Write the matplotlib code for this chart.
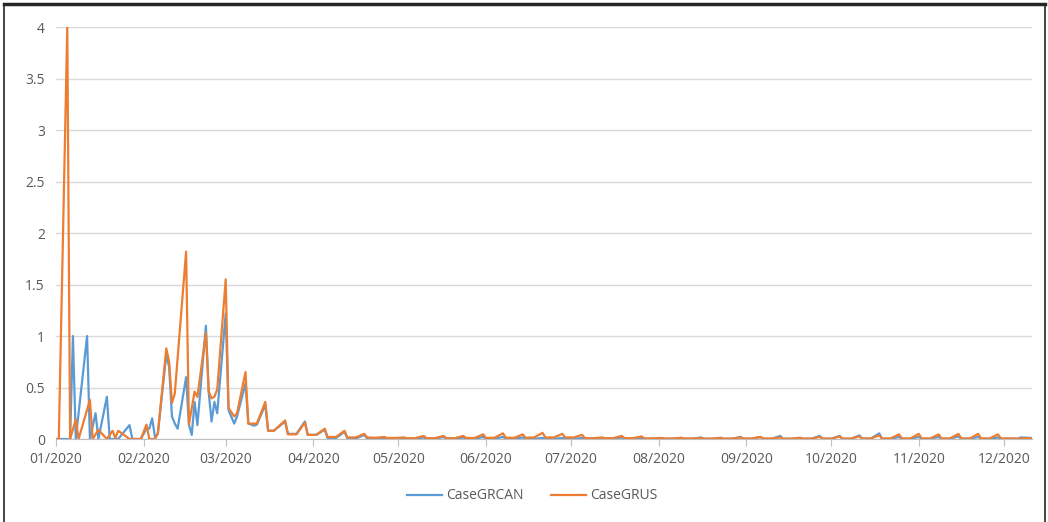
import numpy as np
import pandas as pd
import matplotlib
matplotlib.use("Agg")
import matplotlib.pyplot as plt
import matplotlib.dates as mdates
from matplotlib.ticker import FuncFormatter, MultipleLocator
from matplotlib.lines import Line2D

start = pd.Timestamp("2020-01-01")

# days since 2020-01-01 and growth rate, CaseGRCAN
can_days = [0, 5, 6, 7, 11, 12, 14, 15, 18, 19, 22, 26, 27, 30, 32, 33, 34, 35, 36,
            39, 40, 41, 42, 43, 46, 47, 48, 49, 50, 53, 54, 55, 56, 57, 60, 61, 63, 64,
            67, 68, 70, 71, 74, 75, 77, 81, 82, 85, 88, 89, 92, 95, 96, 99, 102, 103,
            106, 109, 110, 113, 116, 117, 120, 123, 124, 127, 130, 131, 134, 137, 138,
            141, 144, 145, 148, 151, 152, 155, 158, 159, 162, 165, 166, 169, 172, 173,
            176, 179, 180, 183, 186, 187, 190, 193, 194, 197, 200, 201, 204, 207, 208,
            211, 214, 215, 218, 221, 222, 225, 228, 229, 232, 235, 236, 239, 242, 243,
            246, 249, 250, 253, 256, 257, 260, 263, 264, 267, 270, 271, 274, 277, 278,
            281, 284, 285, 288, 291, 292, 295, 298, 299, 302, 305, 306, 309, 312, 313,
            316, 319, 320, 323, 326, 327, 330, 333, 334, 340, 341, 345]
can_vals = [0, 0, 1.0, 0, 1.0, 0, 0.25, 0, 0.41, 0, 0, 0.135, 0, 0, 0.1, 0.1, 0.2, 0.02, 0.05,
            0.82, 0.70, 0.22, 0.15, 0.10, 0.60, 0.14, 0.04, 0.36, 0.135, 1.10, 0.45, 0.17, 0.36, 0.25, 1.22, 0.28, 0.15, 0.22,
            0.54, 0.15, 0.13, 0.14, 0.33, 0.08, 0.08, 0.17, 0.05, 0.05, 0.17, 0.04, 0.04, 0.09, 0.01, 0.01, 0.07, 0.005,
            0.005, 0.04, 0.005, 0.003, 0.01, 0.002, 0.002, 0.01, 0.002, 0.002, 0.015, 0.002, 0.002, 0.02, 0.002,
            0.002, 0.015, 0.002, 0.002, 0.02, 0.002, 0.002, 0.02, 0.002, 0.002, 0.015, 0.002, 0.002, 0.01, 0.002,
            0.002, 0.01, 0.002, 0.002, 0.01, 0.002, 0.002, 0.01, 0.002, 0.002, 0.015, 0.002, 0.002, 0.01, 0.002,
            0.002, 0.01, 0.002, 0.002, 0.01, 0.002, 0.002, 0.015, 0.002, 0.002, 0.01, 0.002, 0.002, 0.02, 0.002,
            0.002, 0.02, 0.002, 0.002, 0.03, 0.002, 0.002, 0.01, 0.002, 0.002, 0.03, 0.002, 0.002, 0.03, 0.002,
            0.002, 0.035, 0.003, 0.003, 0.055, 0.003, 0.003, 0.02, 0.003, 0.003, 0.02, 0.003, 0.003, 0.02, 0.003,
            0.003, 0.025, 0.003, 0.003, 0.02, 0.003, 0.003, 0.015, 0.003, 0.003, 0.015, 0.01]

# days since 2020-01-01 and growth rate, CaseGRUS
us_days = [0, 1, 4, 5, 7, 8, 12, 13, 15, 18, 20, 21, 22, 26, 30, 32, 33, 35, 36,
           39, 40, 41, 42, 46, 47, 49, 50, 53, 54, 55, 56, 57, 60, 61, 63, 64,
           67, 68, 71, 74, 75, 77, 81, 82, 85, 88, 89, 92, 95, 96, 99, 102, 103,
           106, 109, 110, 113, 116, 117, 120, 123, 124, 127, 130, 131, 134, 137, 138,
           141, 144, 145, 148, 151, 152, 155, 158, 159, 162, 165, 166, 169, 172, 173,
           176, 179, 180, 183, 186, 187, 190, 193, 194, 197, 200, 201, 204, 207, 208,
           211, 214, 215, 218, 221, 222, 225, 228, 229, 232, 235, 236, 239, 242, 243,
           246, 249, 250, 253, 256, 257, 260, 263, 264, 267, 270, 271, 274, 277, 278,
           281, 284, 285, 288, 291, 292, 295, 298, 299, 302, 305, 306, 309, 312, 313,
           316, 319, 320, 323, 326, 327, 330, 333, 334, 340, 345]
us_vals = [0, 0, 4.0, 0, 0.19, 0, 0.38, 0, 0.09, 0, 0.08, 0.01, 0.08, 0, 0, 0.14, 0, 0, 0.05,
           0.88, 0.75, 0.35, 0.44, 1.82, 0.14, 0.46, 0.41, 1.03, 0.46, 0.395, 0.41, 0.48, 1.55, 0.30, 0.22, 0.25,
           0.65, 0.15, 0.15, 0.36, 0.08, 0.08, 0.18, 0.045, 0.045, 0.16, 0.04, 0.04, 0.10, 0.02, 0.02, 0.08, 0.015,
           0.015, 0.05, 0.015, 0.012, 0.02, 0.01, 0.01, 0.015, 0.008, 0.008, 0.03, 0.008, 0.008, 0.03, 0.008,
           0.008, 0.03, 0.01, 0.01, 0.045, 0.01, 0.012, 0.055, 0.012, 0.012, 0.045, 0.012, 0.015, 0.06, 0.015,
           0.015, 0.05, 0.015, 0.015, 0.04, 0.008, 0.008, 0.015, 0.008, 0.008, 0.03, 0.008, 0.008, 0.025, 0.006,
           0.006, 0.01, 0.005, 0.005, 0.012, 0.005, 0.005, 0.01, 0.004, 0.004, 0.012, 0.004, 0.004, 0.015, 0.005,
           0.005, 0.02, 0.005, 0.005, 0.015, 0.003, 0.003, 0.012, 0.004, 0.004, 0.02, 0.004, 0.004, 0.025, 0.004,
           0.004, 0.025, 0.005, 0.005, 0.035, 0.005, 0.005, 0.045, 0.005, 0.005, 0.05, 0.005, 0.005, 0.045, 0.005,
           0.005, 0.05, 0.005, 0.005, 0.05, 0.005, 0.005, 0.045, 0.005, 0.005, 0.008]

can_dates = start + pd.to_timedelta(can_days, unit="D")
us_dates = start + pd.to_timedelta(us_days, unit="D")

plt.rcParams['font.family'] = ['Open Sans', 'DejaVu Sans']

fig = plt.figure(figsize=(10.48, 5.22), dpi=100)
ax = fig.add_axes([0.0534, 0.159, 0.9313, 0.789])

ax.plot(can_dates, can_vals, color="#5B9BD5", lw=1.6, label="CaseGRCAN")
ax.plot(us_dates, us_vals, color="#ED7D31", lw=1.6, label="CaseGRUS")

ax.set_ylim(0, 4)
ax.set_xlim(start, start + pd.Timedelta(days=345))
ax.yaxis.set_major_locator(MultipleLocator(0.5))
ax.yaxis.set_major_formatter(FuncFormatter(lambda v, p: "%g" % v))
ax.xaxis.set_major_locator(mdates.MonthLocator())
ax.xaxis.set_major_formatter(mdates.DateFormatter("%m/%Y"))

ax.grid(axis="y", color="#d9d9d9", lw=1)
ax.set_axisbelow(True)
for s in ["top", "right", "left"]:
    ax.spines[s].set_visible(False)
ax.spines["bottom"].set_color("#bfbfbf")
ax.tick_params(axis="y", length=0, pad=8, labelsize=10, labelcolor="#595959")
ax.tick_params(axis="x", length=5, color="#bfbfbf", pad=4, labelsize=10, labelcolor="#595959")

leg = fig.legend(loc="center", bbox_to_anchor=(0.508, 0.05), ncol=2, frameon=False,
                 fontsize=10, handlelength=2.5, columnspacing=2.0, handletextpad=0.3)
for t in leg.get_texts():
    t.set_color("#595959")

# outer frame
fig.add_artist(Line2D([0.004, 0.997], [0.992, 0.992], color="#262626", lw=2.5, transform=fig.transFigure))
fig.add_artist(Line2D([0.004, 0.004], [0.0, 0.992], color="#262626", lw=1.2, transform=fig.transFigure))
fig.add_artist(Line2D([0.997, 0.997], [0.0, 0.992], color="#262626", lw=1.2, transform=fig.transFigure))

fig.savefig("out.png", dpi=100)
